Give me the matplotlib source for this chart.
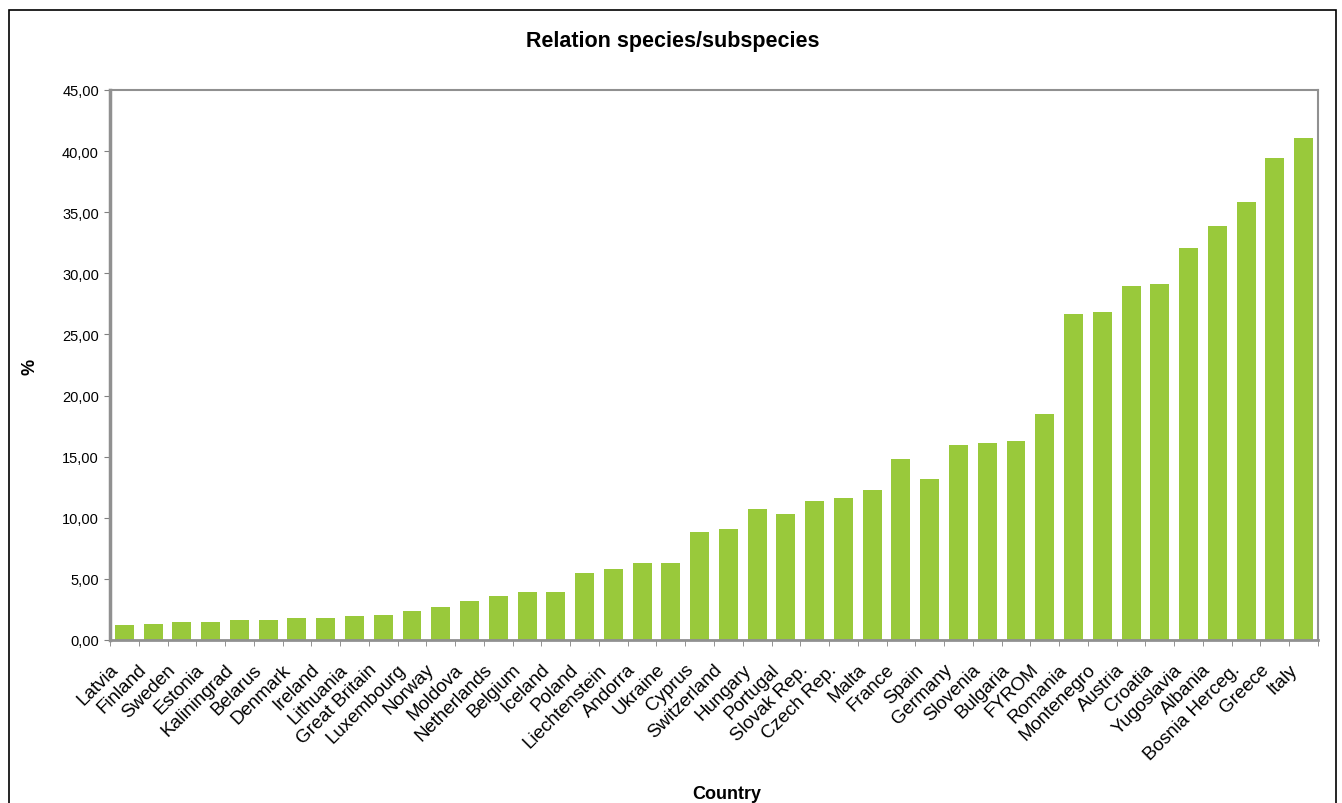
import numpy as np
import matplotlib
matplotlib.use("Agg")
import matplotlib.pyplot as plt
import matplotlib.transforms as mtransforms
from matplotlib.patches import Rectangle
from matplotlib.ticker import FuncFormatter, MultipleLocator

countries = ["Latvia", "Finland", "Sweden", "Estonia", "Kaliningrad", "Belarus",
             "Denmark", "Ireland", "Lithuania", "Great Britain", "Luxembourg",
             "Norway", "Moldova", "Netherlands", "Belgium", "Iceland", "Poland",
             "Liechtenstein", "Andorra", "Ukraine", "Cyprus", "Switzerland",
             "Hungary", "Portugal", "Slovak Rep.", "Czech Rep.", "Malta", "France",
             "Spain", "Germany", "Slovenia", "Bulgaria", "FYROM", "Romania",
             "Montenegro", "Austria", "Croatia", "Yugoslavia", "Albania",
             "Bosnia Herceg.", "Greece", "Italy"]
percent = [1.2, 1.33, 1.5, 1.5, 1.61, 1.67, 1.78, 1.83, 1.94, 2.03, 2.36,
           2.69, 3.22, 3.56, 3.94, 3.95, 5.45, 5.78, 6.33, 6.27, 8.81, 9.11,
           10.69, 10.31, 11.37, 11.64, 12.27, 14.81, 13.17, 15.95, 16.1, 16.3,
           18.5, 26.7, 26.8, 29.0, 29.1, 32.1, 33.9, 35.8, 39.4, 41.1]

plt.rcParams['font.family'] = ['Liberation Sans', 'DejaVu Sans']

W, H = 1342, 804
fig = plt.figure(figsize=(W / 100, H / 100), dpi=100)

# outer frame of the chart
fig.patches.append(Rectangle((9 / W, -0.02), (1336 - 9) / W, 1 - 11 / H + 0.02,
                             transform=fig.transFigure, fill=False,
                             edgecolor='black', linewidth=1.2))

ax = fig.add_axes([110 / W, (H - 641) / H, (1318 - 110) / W, 550 / H])

x = np.arange(len(countries))
ax.bar(x, percent, width=0.66, color='#99c93b')

ax.set_xlim(-0.5, len(countries) - 0.5)
ax.set_ylim(0, 45)
ax.yaxis.set_major_locator(MultipleLocator(5))
ax.yaxis.set_major_formatter(FuncFormatter(lambda v, p: f"{v:.2f}".replace(".", ",")))

ax.set_xticks(x)
ax.set_xticklabels(countries, rotation=45, ha='right', rotation_mode='anchor',
                   fontsize=13.5)
ax.set_xticks(np.arange(len(countries) + 1) - 0.5, minor=True)
ax.tick_params(axis='x', which='major', length=0, pad=9)
ax.tick_params(axis='x', which='minor', length=4, color='#808080')
ax.tick_params(axis='y', length=4, color='#808080', labelsize=10.5, pad=4)

# shift the slanted labels a little left/down like the original
shift = mtransforms.ScaledTranslation(-0.15, -0.08, fig.dpi_scale_trans)
for tick in ax.xaxis.get_major_ticks():
    tick.label1.set_transform(tick.label1.get_transform() + shift)

for s in ax.spines.values():
    s.set_color('#909090')
    s.set_linewidth(1.5)
ax.spines['left'].set_linewidth(2.5)
ax.spines['bottom'].set_linewidth(2.0)

fig.text(673 / W, 1 - 42 / H, "Relation species/subspecies", ha='center',
         va='center', fontsize=15.5, fontweight='bold')
fig.text(30 / W, 1 - 367 / H, "%", ha='center', va='center', rotation=90,
         fontsize=13, fontweight='bold')
fig.text(727 / W, 1 - 795 / H, "Country", ha='center', va='center',
         fontsize=13, fontweight='bold')

fig.savefig("out.png", dpi=100)
